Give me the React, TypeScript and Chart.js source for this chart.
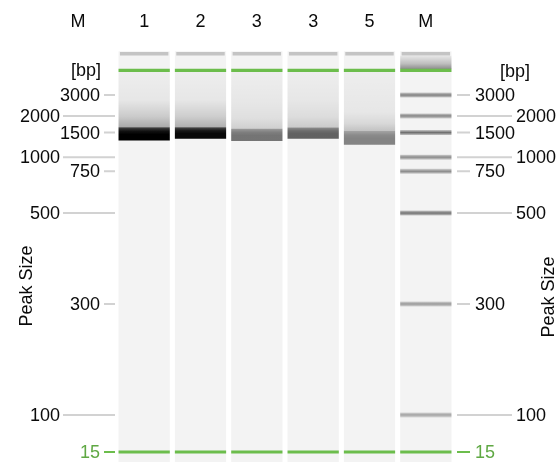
import React, { useEffect, useRef } from "react";
import { Chart, registerables } from "chart.js";

Chart.register(...registerables);

// ---- data ----
const laneLabels = ["1", "2", "3", "3", "5", "M"];
const markerHeader = "M";
const unitLabel = "[bp]";
const axisTitle = "Peak Size";

// ladder (size marker) — relative migration distance (0 = well, 100 = gel end)
const ladderBp = [3000, 2000, 1500, 1000, 750, 500, 300, 100];
const ladderMigration = [12.0, 17.0, 21.0, 26.9, 30.3, 40.3, 62.1, 88.7];
const ladderIntensity = [0.47, 0.45, 0.55, 0.43, 0.43, 0.53, 0.37, 0.33];

const lowerMarkerBp = 15;
const lowerMarkerMigration = 97.6;
const upperMarkerMigration = 6.1;
const wellMigration = 2.1;

// sample lanes 1..5
const sampleSmearTop = [13.2, 13.2, 13.7, 13.2, 16.1];
const sampleBandTop = [19.7, 19.7, 20.1, 19.8, 20.6];
const sampleBandBottom = [22.9, 22.5, 23.0, 22.5, 23.9];
const sampleIntensity = [1.0, 0.97, 0.52, 0.6, 0.46];
const smearIntensity = [0.3, 0.28, 0.15, 0.17, 0.2];

const GREEN = "#6cbd4c";
const FONT = "'Liberation Sans', Arial, sans-serif";
const FONT_SIZE = 18;

function vGradient(ctx: any, stops: [number, string][]) {
  const chart = ctx.chart;
  if (!chart.chartArea || !ctx.raw) return "rgba(0,0,0,0)";
  const y = chart.scales.y;
  const raw = ctx.raw as [number, number];
  const y0 = y.getPixelForValue(raw[0]);
  const y1 = y.getPixelForValue(raw[1]);
  if (!isFinite(y0) || !isFinite(y1) || y0 === y1) return stops[stops.length - 1][1];
  const g = chart.ctx.createLinearGradient(0, y0, 0, y1);
  stops.forEach(([p, c]) => g.addColorStop(p, c));
  return g;
}

const gelAxisPlugin = {
  id: "gelAxis",
  afterDraw(chart: any) {
    const { ctx, chartArea: a, scales } = chart;
    const y = scales.y;
    ctx.save();
    ctx.font = `${FONT_SIZE}px ${FONT}`;
    ctx.textBaseline = "middle";
    ctx.lineWidth = 2;

    const drawTick = (mig: number, text: string, long: boolean, color: string, lineColor: string) => {
      const py = y.getPixelForValue(mig);
      ctx.strokeStyle = lineColor;
      ctx.beginPath();
      ctx.moveTo(long ? a.left - 53 : a.left - 12, py);
      ctx.lineTo(a.left - 1, py);
      ctx.moveTo(a.right + 3, py);
      ctx.lineTo(long ? a.right + 58 : a.right + 16, py);
      ctx.stroke();
      ctx.fillStyle = color;
      ctx.textAlign = "right";
      ctx.fillText(text, long ? a.left - 56 : a.left - 16, py + 1);
      ctx.textAlign = "left";
      ctx.fillText(text, long ? a.right + 62 : a.right + 21, py + 1);
    };

    ladderBp.forEach((bp, i) => drawTick(ladderMigration[i], String(bp), i % 2 === 1, "#0a0a0a", "#d2d2d2"));
    drawTick(lowerMarkerMigration, String(lowerMarkerBp), false, "#5fa843", GREEN);

    // [bp] unit labels at upper marker
    const uy = y.getPixelForValue(upperMarkerMigration);
    ctx.fillStyle = "#0a0a0a";
    ctx.textAlign = "right";
    ctx.fillText(unitLabel, a.left - 15, uy + 1);
    ctx.textAlign = "left";
    ctx.fillText(unitLabel, a.right + 46, uy + 2);

    // left header
    ctx.textAlign = "center";
    ctx.fillText(markerHeader, a.left - 38, a.top - 23);

    // axis titles
    const title = (x: number, yy: number) => {
      ctx.save();
      ctx.translate(x, yy);
      ctx.rotate(-Math.PI / 2);
      ctx.textAlign = "center";
      ctx.fillText(axisTitle, 0, 0);
      ctx.restore();
    };
    title(a.left - 89, 286);
    title(a.right + 95, 297);
    ctx.restore();
  },
};

export default function App() {
  const ref = useRef<HTMLCanvasElement>(null);

  useEffect(() => {
    if (!ref.current) return;
    Chart.defaults.font.family = FONT;
    const ladderIdx = laneLabels.length - 1;
    const perLane = (v: [number, number]) => laneLabels.map(() => v);

    const datasets: any[] = [
      {
        label: "lane",
        data: perLane([1.5, 100]),
        backgroundColor: "#f3f3f3",
        order: 10,
      },
      {
        label: "well",
        data: perLane([wellMigration - 0.4, wellMigration + 0.4]),
        backgroundColor: "#c4c4c4",
        barPercentage: 0.86,
        order: 2,
      },
      {
        label: "upper marker",
        data: perLane([upperMarkerMigration - 0.38, upperMarkerMigration + 0.38]),
        backgroundColor: GREEN,
        order: 1,
      },
      {
        label: "lower marker",
        data: perLane([lowerMarkerMigration - 0.38, lowerMarkerMigration + 0.38]),
        backgroundColor: GREEN,
        order: 1,
      },
      {
        label: "ladder top",
        data: laneLabels.map((_, i) =>
          i === ladderIdx ? [wellMigration + 0.5, upperMarkerMigration - 0.35] : null
        ),
        backgroundColor: (c: any) =>
          vGradient(c, [
            [0, "rgba(0,0,0,0.05)"],
            [0.6, "rgba(0,0,0,0.22)"],
            [1, "rgba(0,0,0,0.42)"],
          ]),
        order: 4,
      },
      {
        label: "smear",
        data: laneLabels.map((_, i) =>
          i < sampleSmearTop.length ? [upperMarkerMigration + 0.4, sampleBandTop[i]] : null
        ),
        backgroundColor: (c: any) => {
          const i = c.dataIndex;
          const s = smearIntensity[i] ?? 0;
          const span = sampleBandTop[i] - (upperMarkerMigration + 0.4);
          const p = Math.max(0, Math.min(1, (sampleSmearTop[i] - (upperMarkerMigration + 0.4)) / span));
          return vGradient(c, [
            [0, "rgba(0,0,0,0.025)"],
            [p, "rgba(0,0,0,0.05)"],
            [p + (1 - p) * 0.6, `rgba(0,0,0,${(s * 0.55).toFixed(3)})`],
            [1, `rgba(0,0,0,${s.toFixed(3)})`],
          ]);
        },
        order: 4,
      },
      {
        label: "band",
        data: laneLabels.map((_, i) =>
          i < sampleBandTop.length ? [sampleBandTop[i], sampleBandBottom[i]] : null
        ),
        backgroundColor: (c: any) => {
          const s = sampleIntensity[c.dataIndex] ?? 0;
          return vGradient(c, [
            [0, `rgba(0,0,0,${(s * 0.7).toFixed(3)})`],
            [0.3, `rgba(0,0,0,${(s * 0.93).toFixed(3)})`],
            [0.55, `rgba(0,0,0,${s.toFixed(3)})`],
            [1, `rgba(0,0,0,${s.toFixed(3)})`],
          ]);
        },
        order: 3,
      },
    ];

    ladderMigration.forEach((m, k) => {
      datasets.push({
        label: `ladder ${ladderBp[k]}`,
        data: laneLabels.map((_, i) => (i === ladderIdx ? [m - 0.6, m + 0.6] : null)),
        backgroundColor: (c: any) => {
          const s = ladderIntensity[k];
          return vGradient(c, [
            [0, `rgba(0,0,0,${(s * 0.35).toFixed(3)})`],
            [0.5, `rgba(0,0,0,${s.toFixed(3)})`],
            [1, `rgba(0,0,0,${(s * 0.35).toFixed(3)})`],
          ]);
        },
        order: 3,
      });
    });

    const chart = new Chart(ref.current, {
      type: "bar",
      data: { labels: laneLabels, datasets },
      options: {
        animation: false,
        responsive: true,
        maintainAspectRatio: false,
        layout: { padding: { left: 116, right: 106, top: 0, bottom: 0 } },
        datasets: { bar: { grouped: false, categoryPercentage: 1, barPercentage: 0.91, borderWidth: 0 } } as any,
        plugins: { legend: { display: false }, tooltip: { enabled: false } },
        scales: {
          x: {
            type: "category",
            position: "top",
            grid: { display: false, drawTicks: false },
            border: { display: false },
            ticks: { color: "#0a0a0a", font: { size: FONT_SIZE, family: FONT }, padding: 12 },
            afterFit: (s: any) => {
              s.height = 45;
            },
          },
          y: {
            display: false,
            min: 0,
            max: 100,
            reverse: true,
          },
        },
      },
      plugins: [gelAxisPlugin],
    });
    return () => chart.destroy();
  }, []);

  return (
    <div style={{ position: "absolute", left: 0, top: 0, width: 560, height: 462, background: "#fff" }}>
      <canvas ref={ref} />
    </div>
  );
}
